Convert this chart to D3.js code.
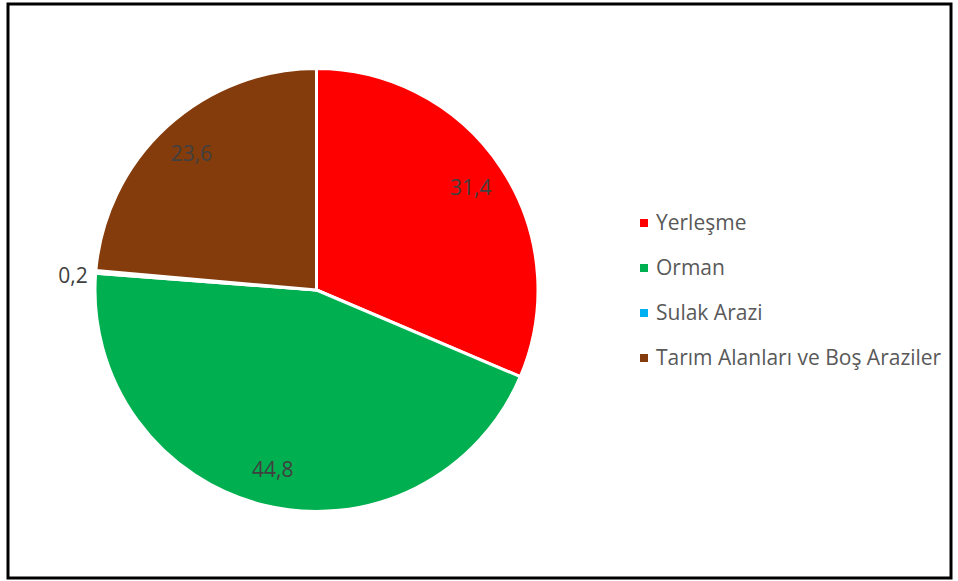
<!DOCTYPE html>
<html><head><meta charset="utf-8">
<script src="https://cdn.jsdelivr.net/npm/d3@7"></script>
<style>body{margin:0;background:#fff}svg{display:block}</style>
</head><body>
<script>
const categories = ["Yerleşme","Orman","Sulak Arazi","Tarım Alanları ve Boş Araziler"];
const values = [31.4,44.8,0.2,23.6];
const labels = ["31,4","44,8","0,2","23,6"];
const colors = ["#FF0000","#00B050","#00B0F0","#843C0C"];

const W=958,H=581;
const svg=d3.select("body").append("svg").attr("width",W).attr("height",H);
svg.append("rect").attr("x",8).attr("y",4).attr("width",943).attr("height",574)
  .attr("fill","#fff").attr("stroke","#000").attr("stroke-width",3);

const cx=316.5, cy=290, r=221.5;
const g=svg.append("g").attr("transform",`translate(${cx},${cy})`);
const pie=d3.pie().sort(null).value(d=>d)(values);
const arc=d3.arc().innerRadius(0).outerRadius(r);
g.selectAll("path").data(pie).join("path").attr("d",arc)
  .attr("fill",(d,i)=>colors[i]).attr("stroke","#fff").attr("stroke-width",3).attr("stroke-linejoin","round");

const font="'Open Sans', sans-serif";
const lab=d3.arc().innerRadius(185).outerRadius(185);
g.selectAll("text.l").data(pie).join("text").attr("class","l")
  .attr("transform",(d,i)=>{
    if(i===2){ const a=(d.startAngle+d.endAngle)/2; const rr=r+8; return `translate(${rr*Math.sin(a)},${-rr*Math.cos(a)+4})`; }
    const c=lab.centroid(d); return `translate(${c[0]},${c[1]})`;})
  .attr("text-anchor",(d,i)=>i===2?"end":"middle").attr("dy","0.35em")
  .attr("font-family",font).attr("font-size",21).attr("fill","#404040")
  .text((d,i)=>labels[i]);

const lg=svg.append("g");
const ly=d3.scalePoint().domain(categories).range([223,358]);
categories.forEach((c,i)=>{
  lg.append("rect").attr("x",640).attr("y",ly(c)-4).attr("width",8).attr("height",8).attr("fill",colors[i]);
  lg.append("text").attr("x",656).attr("y",ly(c)).attr("dy","0.35em")
    .attr("font-family",font).attr("font-size",21).attr("fill","#595959").text(c);
});
</script>
</body></html>
